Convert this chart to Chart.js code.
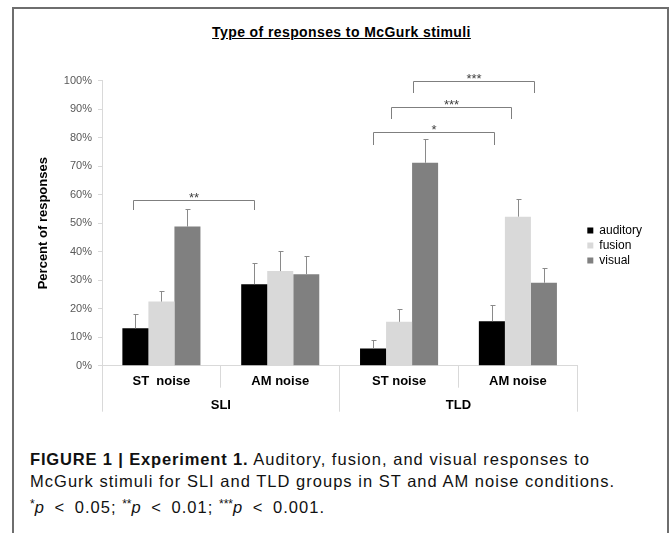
<!DOCTYPE html>
<html lang="en">
<head>
    <meta charset="UTF-8">
    <meta name="viewport" content="width=device-width, initial-scale=1.0">
    <title>Type of responses to McGurk stimuli</title>
    <script src="https://cdn.jsdelivr.net/npm/chart.js"></script>
    <style>
        body {
            margin: 0;
            background: #fff;
            font-family: "Liberation Sans", Arial, sans-serif;
        }
        .frame {
            position: absolute;
            left: 12px;
            top: 7px;
            width: 657px;
            height: 600px;
            border: 2px solid #6e6e6e;
            box-sizing: border-box;
        }
        .chart-title {
            position: absolute;
            left: 0;
            top: 24px;
            width: 683px;
            text-align: center;
            font: bold 14px/16px "Liberation Sans", Arial, sans-serif;
            letter-spacing: 0.4px;
            text-decoration: underline;
            color: #000;
        }
        .chart-box {
            position: absolute;
            left: 0;
            top: 50px;
            width: 671px;
            height: 380px;
        }
        .caption {
            position: absolute;
            left: 30px;
            top: 448px;
            font-size: 16.5px;
            line-height: 22.3px;
            letter-spacing: 1.02px;
            color: #111;
            white-space: nowrap;
        }
        .caption b { letter-spacing: 0.85px; }
        .caption sup { font-size: 12px; vertical-align: 5px; letter-spacing: 0; }
        .caption .lt { margin: 0 4px; }
    </style>
</head>
<body>
    <div class="frame"></div>
    <div class="chart-title">Type of responses to McGurk stimuli</div>
    <div class="chart-box">
        <canvas id="mcgurkChart"></canvas>
    </div>
    <div class="caption"><b>FIGURE 1 | Experiment 1.</b> Auditory, fusion, and visual responses to<br>McGurk stimuli for SLI and TLD groups in ST and AM noise conditions.<br><sup>*</sup><i>p</i> <span class="lt">&lt;</span> 0.05; <sup>**</sup><i>p</i> <span class="lt">&lt;</span> 0.01; <sup>***</sup><i>p</i> <span class="lt">&lt;</span> 0.001.</div>

    <script>
        const categories = ['ST  noise', 'AM noise', 'ST noise', 'AM noise'];
        const groups = ['SLI', 'TLD'];

        // percent of responses (mean) and upper error
        const auditory = [13.1, 28.6, 6.0, 15.6];
        const fusion = [22.5, 33.2, 15.4, 52.3];
        const visual = [48.8, 32.1, 71.2, 29.1];
        const auditoryErr = [4.9, 7.3, 3.0, 5.7];
        const fusionErr = [3.7, 7.0, 4.4, 6.2];
        const visualErr = [6.1, 6.4, 8.2, 5.2];

        // significance brackets (category index from/to, percent height)
        const sigFrom = [-0.237, 1.784, 1.933, 2.121];
        const sigTo = [0.780, 2.795, 2.942, 3.132];
        const sigTop = [58.1, 81.9, 90.9, 99.9];
        const sigLeg = [54.6, 77.4, 86.5, 95.6];
        const sigMarks = ['**', '*', '***', '***'];

        Chart.defaults.font.family = '"Liberation Sans", Arial, sans-serif';

        // error bars + significance brackets
        const extras = {
            id: 'extras',
            afterDatasetsDraw(chart) {
                const { ctx, scales: { x, y } } = chart;
                ctx.save();
                ctx.lineWidth = 1;
                ctx.strokeStyle = '#8a8a8a';
                chart.data.datasets.forEach((ds, i) => {
                    chart.getDatasetMeta(i).data.forEach((bar, j) => {
                        const cx = Math.round(bar.x) + 0.5;
                        const top = Math.round(y.getPixelForValue(ds.data[j] + ds.errors[j])) + 0.5;
                        ctx.beginPath();
                        ctx.moveTo(cx, bar.y);
                        ctx.lineTo(cx, top);
                        ctx.moveTo(cx - 2, top);
                        ctx.lineTo(cx + 3, top);
                        ctx.stroke();
                    });
                });

                ctx.strokeStyle = '#7f7f7f';
                ctx.fillStyle = '#404040';
                ctx.font = '13px "Liberation Sans", Arial, sans-serif';
                ctx.textAlign = 'center';
                ctx.textBaseline = 'alphabetic';
                sigMarks.forEach((mark, k) => {
                    const x0 = Math.round(x.getPixelForValue(sigFrom[k])) + 0.5;
                    const x1 = Math.round(x.getPixelForValue(sigTo[k])) + 0.5;
                    const yt = Math.round(y.getPixelForValue(sigTop[k])) + 0.5;
                    const yl = Math.round(y.getPixelForValue(sigLeg[k]));
                    ctx.beginPath();
                    ctx.moveTo(x0, yl);
                    ctx.lineTo(x0, yt);
                    ctx.lineTo(x1, yt);
                    ctx.lineTo(x1, yl);
                    ctx.stroke();
                    ctx.fillText(mark, (x0 + x1) / 2, yt + 1);
                });
                ctx.restore();
            }
        };

        const ctx = document.getElementById('mcgurkChart').getContext('2d');
        const mcgurkChart = new Chart(ctx, {
            type: 'bar',
            data: {
                labels: categories,
                datasets: [
                    { label: 'auditory', data: auditory, errors: auditoryErr, backgroundColor: '#000000' },
                    { label: 'fusion', data: fusion, errors: fusionErr, backgroundColor: '#d9d9d9' },
                    { label: 'visual', data: visual, errors: visualErr, backgroundColor: '#808080' }
                ]
            },
            options: {
                responsive: true,
                maintainAspectRatio: false,
                animation: false,
                categoryPercentage: 0.657,
                barPercentage: 1,
                layout: {
                    padding: { top: 30.7, right: 19, bottom: 19.8, left: 0 }
                },
                scales: {
                    x: {
                        weight: 0,
                        grid: { drawOnChartArea: false, tickLength: 22, color: '#d9d9d9', offset: true },
                        border: { color: '#d9d9d9' },
                        ticks: {
                            autoSkip: false,
                            maxRotation: 0,
                            padding: -14.5,
                            color: '#000',
                            font: { size: 13, weight: 'bold' }
                        },
                        afterFit: (scale) => { scale.height = 21; }
                    },
                    x2: {
                        type: 'category',
                        labels: groups,
                        position: 'bottom',
                        weight: 1,
                        offset: true,
                        grid: { drawOnChartArea: false, tickLength: 25, color: '#d9d9d9', offset: true },
                        border: { display: false },
                        ticks: {
                            autoSkip: false,
                            maxRotation: 0,
                            padding: -14.5,
                            color: '#000',
                            font: { size: 13, weight: 'bold' }
                        },
                        afterFit: (scale) => { scale.height = 23.5; }
                    },
                    y: {
                        min: 0,
                        max: 100,
                        ticks: {
                            stepSize: 10,
                            padding: 6,
                            color: '#595959',
                            font: { size: 11 },
                            callback: (v) => v + '%'
                        },
                        grid: { drawOnChartArea: false, tickLength: 4, color: '#d9d9d9' },
                        border: { color: '#d9d9d9' },
                        title: {
                            display: true,
                            text: 'Percent of responses',
                            color: '#000',
                            font: { size: 13, weight: 'bold' },
                            padding: { top: 36, bottom: 0 }
                        },
                        afterFit: (scale) => { scale.width = 102; }
                    },
                    gap: {
                        type: 'linear',
                        position: 'right',
                        grid: { display: false },
                        ticks: { display: false },
                        border: { display: false },
                        afterFit: (scale) => { scale.width = 7; }
                    }
                },
                plugins: {
                    legend: {
                        position: 'right',
                        labels: {
                            boxWidth: 6,
                            boxHeight: 6,
                            padding: 3,
                            color: '#000',
                            font: { size: 12 }
                        }
                    },
                    tooltip: { enabled: false }
                }
            },
            plugins: [extras]
        });
    </script>
</body>
</html>
